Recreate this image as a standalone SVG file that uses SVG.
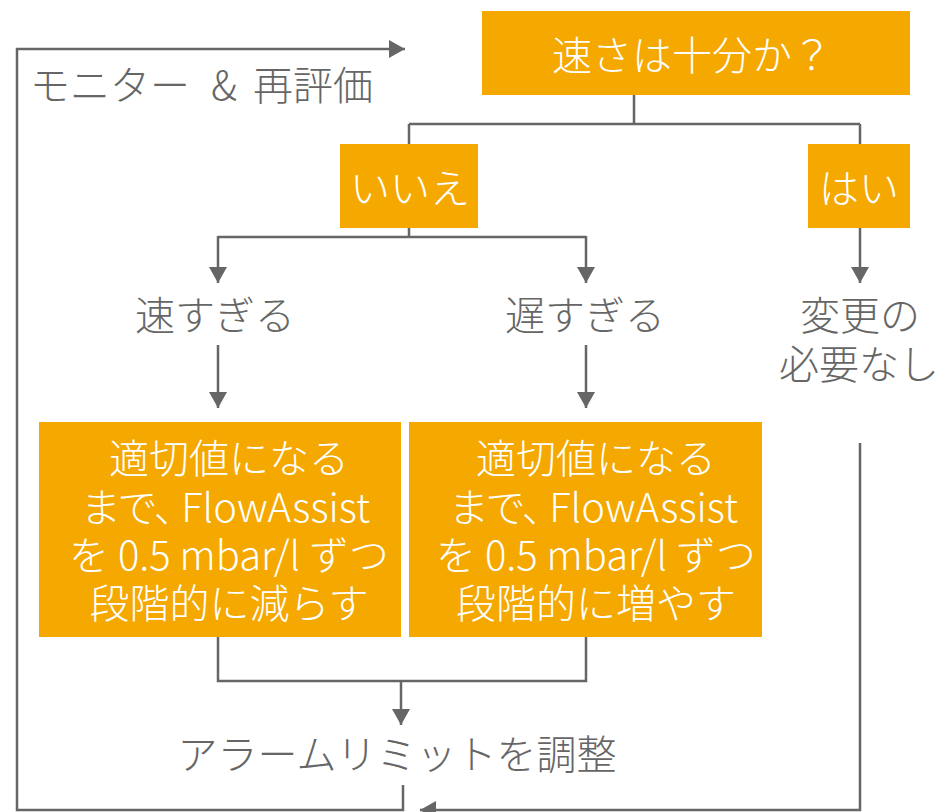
<svg xmlns="http://www.w3.org/2000/svg" width="947" height="812" viewBox="0 0 947 812">
<defs>
<marker id="ah" markerUnits="userSpaceOnUse" markerWidth="18" markerHeight="18" viewBox="0 0 18 18" refX="16" refY="9" orient="auto">
<path d="M0 0 L16 9 L0 18 Z" fill="#666666"/>
</marker>
<style>
.box{fill:#F5A800}
.wt{fill:#FFFFFF;font-family:"Noto Sans CJK JP","Noto Sans",sans-serif;font-weight:300;font-size:40px;text-anchor:middle;dominant-baseline:central}
.gt{fill:#666666;font-family:"Noto Sans CJK JP","Noto Sans",sans-serif;font-weight:300;font-size:40px;text-anchor:middle;dominant-baseline:central}
.palt{font-feature-settings:"palt"}
.ln{fill:none;stroke:#666666;stroke-width:2.5}
.ar{fill:none;stroke:#666666;stroke-width:2.5;marker-end:url(#ah)}
</style>
</defs>
<g id="connectors">
<path class="ln" d="M634 95 V124 M409 124 H860 M409 124 V144 M860 124 V144"/>
<path class="ln" d="M409 228 V237 M218 237 H586"/>
<path class="ar" d="M218 236 V283"/>
<path class="ar" d="M586 236 V283"/>
<path class="ar" d="M860 228 V283"/>
<path class="ar" d="M218 345 V408"/>
<path class="ar" d="M586 345 V408"/>
<path class="ln" d="M218 637 V681 H586 V637"/>
<path class="ar" d="M401 681 V725"/>
<path class="ar" d="M403 785 V810 H17 V49 H405"/>
<path class="ar" d="M860 443 V810 H420"/>
</g>
<g id="n-question">
<rect class="box" x="482" y="11" width="428" height="84"/>
<text class="wt" x="692" y="53">速さは十分か？</text>
</g>
<g id="n-no">
<rect class="box" x="340" y="144" width="138" height="84"/>
<text class="wt" x="410" y="186">いいえ</text>
</g>
<g id="n-yes">
<rect class="box" x="808" y="144" width="102" height="84"/>
<text class="wt" x="859" y="186">はい</text>
</g>
<g id="n-fast">
<text class="gt" x="215" y="313">速すぎる</text>
</g>
<g id="n-slow">
<text class="gt" x="585" y="313">遅すぎる</text>
</g>
<g id="n-nochange">
<text class="gt" x="860" y="313">変更の</text>
<text class="gt" x="859" y="362">必要なし</text>
</g>
<g id="n-decrease">
<rect class="box" x="39" y="422" width="362" height="215"/>
<text class="wt" x="229" y="456">適切値になる</text>
<text class="wt palt" x="226" y="505">まで、<tspan dx="7">FlowAssist</tspan></text>
<text class="wt" x="229" y="553">を 0.5 mbar/l ずつ</text>
<text class="wt" x="229" y="601">段階的に減らす</text>
</g>
<g id="n-increase">
<rect class="box" x="409" y="422" width="353" height="215"/>
<text class="wt" x="596" y="456">適切値になる</text>
<text class="wt palt" x="594" y="505">まで、<tspan dx="7">FlowAssist</tspan></text>
<text class="wt" x="596" y="553">を 0.5 mbar/l ずつ</text>
<text class="wt" x="596" y="601">段階的に増やす</text>
</g>
<g id="n-alarm">
<text class="gt" x="397" y="752">アラームリミットを調整</text>
</g>
<g id="n-monitor">
<text class="gt" x="30" y="83" style="text-anchor:start"><tspan>モニター</tspan><tspan x="211">&amp;</tspan><tspan x="253">再評価</tspan></text>
</g>
</svg>
